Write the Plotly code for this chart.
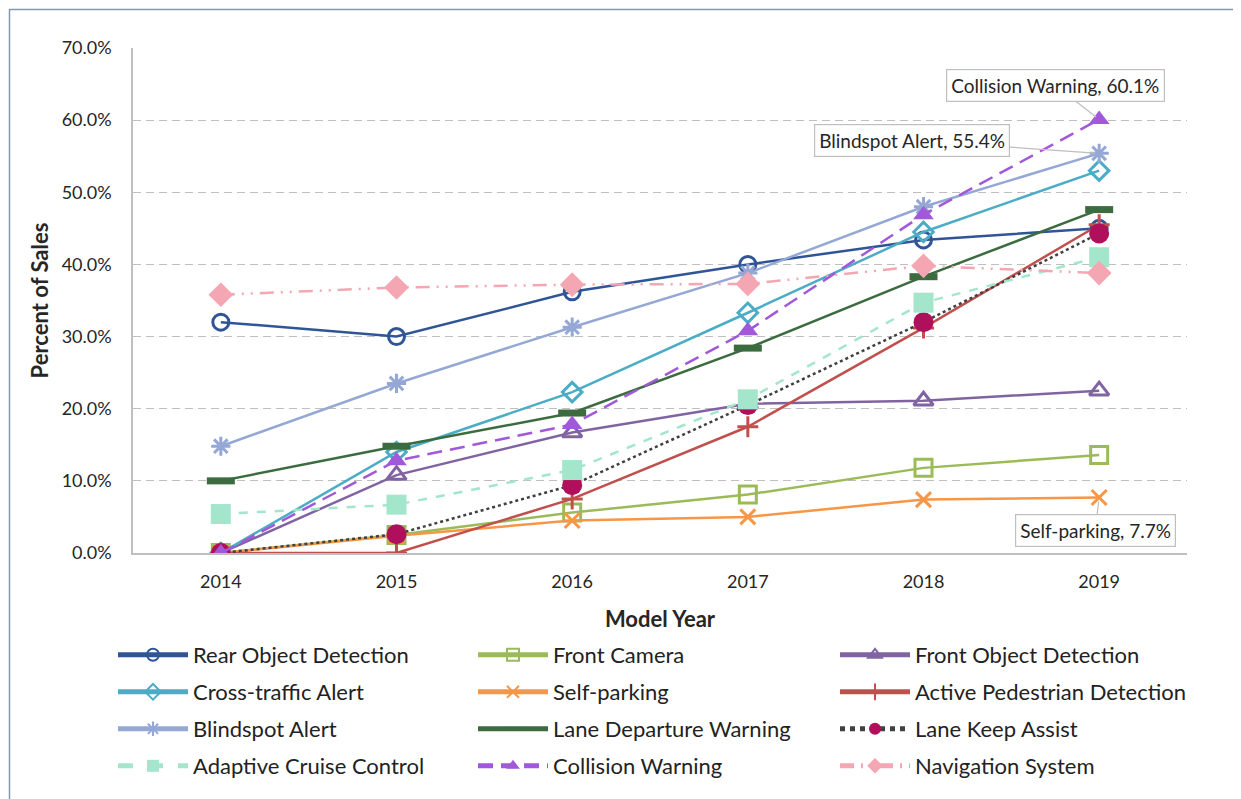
import plotly.graph_objects as go

years = ["2014", "2015", "2016", "2017", "2018", "2019"]

rear_object = [0.320, 0.300, 0.362, 0.400, 0.434, 0.450]
front_camera = [0.0, 0.025, 0.056, 0.081, 0.118, 0.136]
front_object = [0.0, 0.108, 0.167, 0.207, 0.211, 0.225]
cross_traffic = [0.0, 0.140, 0.223, 0.333, 0.445, 0.530]
self_parking = [0.0, 0.024, 0.045, 0.050, 0.074, 0.077]
pedestrian = [0.0, 0.0, 0.075, 0.175, 0.312, 0.455]
blindspot = [0.148, 0.235, 0.313, 0.388, 0.480, 0.554]
lane_departure = [0.100, 0.148, 0.194, 0.284, 0.383, 0.476]
lane_keep = [0.0, 0.026, 0.094, 0.205, 0.320, 0.443]
adaptive_cruise = [0.054, 0.067, 0.115, 0.213, 0.347, 0.410]
collision = [0.0, 0.128, 0.178, 0.308, 0.469, 0.601]
navigation = [0.358, 0.368, 0.372, 0.373, 0.398, 0.388]

FONT = "Lato"

series = [
    ("Rear Object Detection", rear_object, dict(color="#2F5597", width=2.5), dict(symbol="circle-open", size=16, color="#2F5597", line=dict(width=3, color="#2F5597"))),
    ("Front Camera", front_camera, dict(color="#9BBB59", width=2.5), dict(symbol="square-open", size=17, color="#9BBB59", line=dict(width=3, color="#9BBB59"))),
    ("Front Object Detection", front_object, dict(color="#8064A2", width=2.5), dict(symbol="triangle-up-open", size=17, color="#8064A2", line=dict(width=3, color="#8064A2"))),
    ("Cross-traffic Alert", cross_traffic, dict(color="#4BACC6", width=2.5), dict(symbol="diamond-open", size=15, color="#4BACC6", line=dict(width=3, color="#4BACC6"))),
    ("Self-parking", self_parking, dict(color="#F79646", width=2.5), dict(symbol="x-thin-open", size=15, color="#F79646", line=dict(width=3, color="#F79646"))),
    ("Active Pedestrian Detection", pedestrian, dict(color="#C0504D", width=2.5), dict(symbol="cross-thin-open", size=15, color="#C0504D", line=dict(width=3, color="#C0504D"))),
    ("Blindspot Alert", blindspot, dict(color="#95A8D5", width=2.5), dict(symbol="asterisk-open", size=16, color="#95A8D5", line=dict(width=3, color="#95A8D5"))),
    ("Lane Departure Warning", lane_departure, dict(color="#3B6B3F", width=2.5), dict(symbol="line-ew-open", size=20, color="#3B6B3F", line=dict(width=7, color="#3B6B3F"))),
    ("Lane Keep Assist", lane_keep, dict(color="#404040", width=2.5, dash="dot"), dict(symbol="circle", size=20, color="#B0105B", line=dict(width=0))),
    ("Adaptive Cruise Control", adaptive_cruise, dict(color="#A3E6CB", width=2.5, dash="dash"), dict(symbol="square", size=20, color="#A3E6CB", line=dict(width=0))),
    ("Collision Warning", collision, dict(color="#A259D9", width=2.5, dash="15px,8px"), dict(symbol="triangle-up", size=18, color="#A259D9", line=dict(width=0))),
    ("Navigation System", navigation, dict(color="#F4A6B2", width=2.5, dash="14px,7px,2px,7px,2px,7px"), dict(symbol="diamond", size=19, color="#F4A6B2", line=dict(width=0))),
]

OFF = 8  # page body margin
W, H = 1241 - OFF, 799 - OFF
ml, mr, mt, mb = 133 - OFF, 54, 48 - OFF, 246
pw = W - ml - mr
ph = H - mt - mb

def lx(px):
    return (px - OFF - ml) / pw

def ly(px):
    return (H - mb - (px - OFF)) / ph

fig = go.Figure()
leg_layout = {}
cols_px = [113, 473, 835]
rows_px = [655, 692, 729, 766]
for i, (name, vals, line, marker) in enumerate(series):
    key = "legend" if i == 0 else f"legend{i + 1}"
    fig.add_trace(go.Scatter(x=years, y=vals, name=name, mode="lines+markers",
                             line=line, marker=marker, legend=key, showlegend=True))
    r, c = divmod(i, 3)
    leg_layout[key] = dict(x=lx(cols_px[c]), y=ly(rows_px[r]), xanchor="left", yanchor="middle",
                           orientation="h", itemwidth=70, itemsizing="constant",
                           font=dict(family=FONT, size=22, color="#222222"),
                           bgcolor="rgba(0,0,0,0)", itemclick=False, visible=True)

fig.update_layout(
    width=W, height=H, showlegend=True,
    margin=dict(l=ml, r=mr, t=mt, b=mb, autoexpand=False),
    paper_bgcolor="white", plot_bgcolor="white",
    font=dict(family=FONT, size=18, color="#262626"),
    xaxis=dict(type="category", range=[-0.5, 5.5], showgrid=False, automargin=False,
               showline=True, linecolor="#BFBFBF", linewidth=1.5,
               ticks="", tickfont=dict(family=FONT, size=18, color="#262626"),
               ticklabelstandoff=12,
               title=dict(text="<b>Model Year</b>", font=dict(family=FONT, size=22, color="#262626"), standoff=20)),
    yaxis=dict(range=[0, 0.7], dtick=0.1, tickformat=".1%", automargin=False,
               showgrid=True, gridcolor="#BFBFBF", griddash="8px,5px", gridwidth=1,
               showline=True, linecolor="#BFBFBF", linewidth=1.5, zeroline=False,
               ticks="", ticklabelstandoff=16,
               tickfont=dict(family=FONT, size=18, color="#262626"),
               title=dict(text="<b>Percent of Sales</b>", font=dict(family=FONT, size=22, color="#262626"), standoff=7)),
    **leg_layout,
)

last = len(years) - 1
ann_common = dict(xref="x", yref="y", showarrow=True, arrowhead=0, arrowwidth=1.2,
                  arrowcolor="#BFBFBF", bordercolor="#BFBFBF", borderwidth=1.2,
                  borderpad=4, bgcolor="white",
                  font=dict(family=FONT, size=19, color="#262626"))
fig.add_annotation(ann_common, x=last, y=collision[-1], text="Collision Warning, 60.1%", ax=-44, ay=-34, standoff=4)
fig.add_annotation(ann_common, x=last, y=blindspot[-1], text="Blindspot Alert, 55.4%", ax=-187, ay=-13, standoff=4)
fig.add_annotation(ann_common, x=last, y=self_parking[-1], text="Self-parking, 7.7%", ax=-4, ay=33, standoff=4)

# outer chart border
fig.add_shape(type="rect", xref="paper", yref="paper",
              x0=lx(9.5), x1=lx(1236), y0=ly(812), y1=ly(9.5),
              line=dict(color="#8497B0", width=1.5),
              fillcolor="rgba(0,0,0,0)", layer="below")

fig.write_html("out.html")
